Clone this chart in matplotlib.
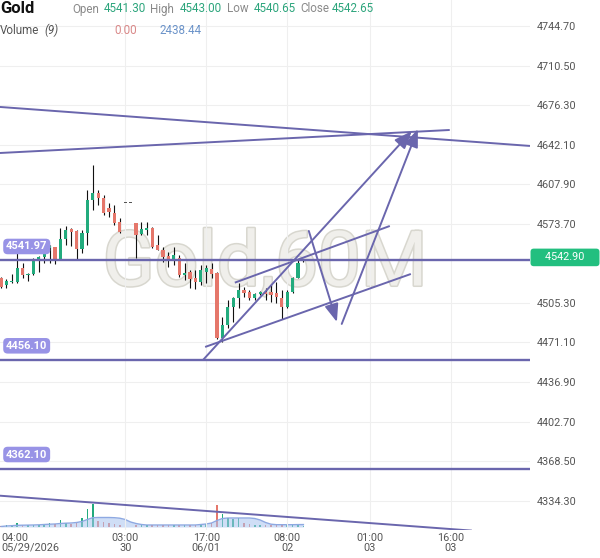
import matplotlib
matplotlib.use("Agg")
import matplotlib.pyplot as plt
import matplotlib.transforms as mtransforms
import matplotlib.patheffects as pe
import numpy as np

plt.rcParams['font.family'] = ['Roboto', 'DejaVu Sans']

# ---------- data (60M bars) ----------
opens = [4526.8, 4520.8, 4523.6, 4523.6, 4535.2, 4529.1, 4530.3, 4542.4, 4544.7, 4552.5,
         4553.3, 4543.0, 4560.3, 4568.9, 4567.5, 4551.6, 4565.5, 4594.3, 4600.6, 4595.7,
         4587.4, 4582.7, 4575.5, 4591.7, 4591.7, 4574.1, 4564.6, 4568.3, 4569.8, 4555.4,
         4551.0, 4545.8, 4542.4, 4543.9, 4529.4, 4532.3, 4526.6, 4523.6, 4532.3, 4534.3,
         4531.4, 4474.7, 4486.2, 4502.0, 4509.3, 4516.5, 4515.0, 4509.3, 4513.0, 4514.5,
         4515.0, 4513.6, 4509.3, 4502.0, 4515.0, 4526.6, 4541.30]
highs = [4527.7, 4525.9, 4530.3, 4548.2, 4539.8, 4531.4, 4544.4, 4545.8, 4552.5, 4555.4,
         4553.9, 4569.8, 4571.8, 4569.8, 4568.0, 4568.3, 4602.9, 4624.5, 4602.9, 4598.6,
         4591.6, 4589.9, 4578.4, 4591.7, 4591.7, 4574.3, 4575.5, 4575.5, 4571.2, 4564.0,
         4553.9, 4549.6, 4553.9, 4546.7, 4539.5, 4533.8, 4533.8, 4538.1, 4538.1, 4539.5,
         4532.3, 4492.8, 4507.8, 4510.7, 4522.2, 4519.3, 4516.5, 4514.0, 4515.5, 4517.9,
         4520.8, 4523.6, 4516.5, 4516.5, 4528.0, 4543.0, 4543.00]
lows = [4518.1, 4518.2, 4522.5, 4522.5, 4526.6, 4524.5, 4529.4, 4532.3, 4539.5, 4540.0,
        4538.9, 4542.4, 4555.4, 4554.5, 4542.4, 4548.2, 4555.4, 4585.6, 4589.9, 4581.3,
        4579.6, 4572.6, 4565.5, 4591.7, 4591.7, 4543.9, 4564.0, 4564.0, 4552.5, 4551.0,
        4541.0, 4536.6, 4538.1, 4527.9, 4525.1, 4517.9, 4517.0, 4520.8, 4522.5, 4526.6,
        4473.8, 4471.8, 4484.0, 4489.0, 4500.6, 4510.7, 4507.8, 4507.8, 4512.0, 4507.8,
        4506.3, 4505.0, 4491.1, 4500.6, 4513.6, 4526.6, 4540.65]
closes = [4519.0, 4524.2, 4524.5, 4535.2, 4529.4, 4530.3, 4543.0, 4544.7, 4548.2, 4554.5,
          4542.4, 4560.3, 4568.3, 4566.9, 4551.6, 4565.5, 4594.3, 4600.6, 4595.7, 4582.7,
          4583.9, 4574.1, 4566.9, 4591.7, 4591.7, 4564.0, 4568.9, 4569.8, 4553.9, 4551.0,
          4545.2, 4543.0, 4546.7, 4529.4, 4530.9, 4525.7, 4523.6, 4533.8, 4535.2, 4530.3,
          4474.7, 4486.2, 4502.0, 4509.3, 4516.5, 4513.6, 4509.3, 4513.0, 4514.7, 4513.0,
          4512.1, 4510.7, 4502.0, 4515.0, 4526.6, 4539.5, 4542.65]
volumes = [1500, 2000, 2000, 4300, 2000, 1800, 2200, 2000, 3000, 4000,
           3000, 7300, 4000, 3500, 4000, 9300, 18300, 22700, 6000, 5300,
           4500, 3300, 2500, 0, 0, 2000, 2000, 1800, 2000, 2200,
           1800, 2000, 2200, 2000, 2300, 2000, 2200, 3300, 3300, 4000,
           21700, 13300, 9300, 8300, 9000, 4000, 3300, 2500, 2000, 2500,
           2200, 2000, 2300, 2000, 2200, 2000, 1000]
volume_ma9 = [500, 1000, 1300, 1700, 1800, 1900, 2000, 2200, 2500, 2800,
              3000, 3500, 3800, 4000, 4500, 5500, 7500, 9300, 9500, 9500,
              9500, 9300, 8800, 7500, 5000, 3500, 2500, 2000, 2000, 2000,
              2000, 2000, 2000, 2000, 2000, 2000, 2000, 2500, 3000, 4000,
              6500, 8500, 9000, 9000, 9000, 9000, 9000, 8500, 7000, 4500,
              2800, 2300, 2300, 2300, 2300, 2400, 2438.44]

price_ticks = [4744.70, 4710.50, 4676.30, 4642.10, 4607.90, 4573.70,
               4505.30, 4471.10, 4436.90, 4402.70, 4368.50, 4334.30]
time_tick_idx = [0, 23, 38, 53, 68.3, 83.3]
time_tick_labels = ['04:00\n05/29/2026', '03:00\n30', '17:00\n06/01',
                    '08:00\n02', '01:00\n03', '16:00\n03']

level_prices = [4541.97, 4456.10, 4362.10]
last_price = 4542.90

# drawn trendlines: (start idx, start price, end idx, end price)
seg_x0 = [-0.19, -0.19, -0.19, 37.8, 43.3]
seg_p0 = [4674.7, 4634.9, 4338.6, 4467.2, 4522.8]
seg_x1 = [97.96, 83.1, 87.2, 75.9, 72.0]
seg_p1 = [4641.0, 4654.8, 4308.4, 4530.3, 4571.8]
arr_x0 = [37.4, 57.0, 63.1]
arr_p0 = [4455.9, 4567.5, 4487.1]
arr_x1 = [76.1, 62.2, 77.2]
arr_p1 = [4653.9, 4488.8, 4655.6]

GREEN = '#22ab7d'
RED = '#e5776b'
PURPLE = '#6a66ad'
LABEL_BG = '#9893e6'

# ---------- figure ----------
fig = plt.figure(figsize=(6, 5.58), dpi=100)
rect = [0, 28 / 558, 530 / 600, 530 / 558]
vax = fig.add_axes(rect)
ax = fig.add_axes(rect, sharex=vax)
vax.set_zorder(1)
ax.set_zorder(2)
ax.patch.set_visible(False)

idx = np.arange(len(opens))
o = np.array(opens); c = np.array(closes)
ax.set_xlim(-1 / 5.4, 529 / 5.4)
ax.set_ylim(4308.94, 4767.18)

# watermark + volume underneath
vax.axis('off')
vax.set_ylim(-3000, 527000)
vax.text(0.5, 0.5, 'Gold,60M', transform=vax.transAxes, ha='center', va='center',
         fontsize=55, color='#f0efeb',
         path_effects=[pe.withStroke(linewidth=2.2, foreground='#d8d7cf')])
vcol = [GREEN if cc >= oo else RED for oo, cc in zip(opens, closes)]
vax.bar(idx, volumes, width=0.3, color=vcol)
vax.fill_between(idx, volume_ma9, color='#a9c4f0', alpha=0.55, lw=0)
vax.plot(idx, volume_ma9, color='#8ea9e2', lw=1)

# grid
ax.set_yticks(price_ticks)
ax.set_yticklabels([f'{p:.2f}' for p in price_ticks])
ax.set_xticks(time_tick_idx)
ax.set_xticklabels(time_tick_labels)
ax.grid(True, color='#efefef', lw=0.8, zorder=0)
ax.get_xgridlines()[0].set_visible(False)
ax.yaxis.tick_right()
ax.tick_params(length=0, labelsize=7.8, colors='#555555')
ax.tick_params(axis='y', pad=5)
ax.tick_params(axis='x', pad=2)
for lbl in ax.get_xticklabels():
    lbl.set_linespacing(1.0)
ax.get_xticklabels()[0].set_ha('left')
for s in ax.spines.values():
    s.set_visible(False)

# candles
body_col = [GREEN if cc > oo else (RED if cc < oo else '#555555') for oo, cc in zip(opens, closes)]
ax.vlines(idx, lows, highs, color='#111111', lw=0.8, zorder=3)
ax.bar(idx, np.maximum(np.abs(c - o), 0.9), bottom=np.minimum(o, c), width=0.62,
       color=body_col, zorder=4)

# horizontal levels with labels
blend = mtransforms.blended_transform_factory(ax.transAxes, ax.transData)
for lv in level_prices:
    ax.axhline(lv, color=PURPLE, lw=1.7, zorder=5)
    ax.annotate(f'{lv:.2f}', xy=(0, lv), xycoords=blend, xytext=(6, 9),
                textcoords='offset pixels', ha='left', va='bottom', fontsize=8,
                fontweight='bold', color='white', zorder=6,
                bbox=dict(boxstyle='round,pad=0.25,rounding_size=0.4', fc=LABEL_BG, ec='none'))

# trendlines and arrows
for x0, p0, x1, p1 in zip(seg_x0, seg_p0, seg_x1, seg_p1):
    ax.plot([x0, x1], [p0, p1], color=PURPLE, lw=1.4, zorder=5, solid_capstyle='butt')
for x0, p0, x1, p1 in zip(arr_x0, arr_p0, arr_x1, arr_p1):
    ax.annotate('', xy=(x1, p1), xytext=(x0, p0), zorder=5,
                arrowprops=dict(arrowstyle='-|>,head_length=0.9,head_width=0.35',
                                color=PURPLE, lw=1.4, shrinkA=0, shrinkB=0,
                                mutation_scale=12))

# last price tag
ax.annotate('    %.2f    ' % last_price, xy=(1, last_price), xycoords=blend,
            xytext=(35, 2), textcoords='offset pixels', ha='center', va='center',
            fontsize=7.8, color='white', annotation_clip=False, zorder=7,
            bbox=dict(boxstyle='round,pad=0.35,rounding_size=0.3', fc='#22bf7f', ec='none'))

# header
def ftxt(x, y, s, **kw):
    fig.text(x / 600, 1 - y / 558, s, va='baseline', **kw)

ftxt(0, 13, 'Gold', fontsize=12, fontweight='bold', color='#111111')
hdr_lbl = ['Open', 'High', 'Low', 'Close']
hdr_val = ['4541.30', '4543.00', '4540.65', '4542.65']
hdr_lbl_x = [72, 150, 227, 300]
hdr_val_x = [104, 180, 254, 332]
for s, x in zip(hdr_lbl, hdr_lbl_x):
    ftxt(x, 12.5, s, fontsize=8.4, color='#8a8a8a')
for s, x in zip(hdr_val, hdr_val_x):
    ftxt(x, 12, s, fontsize=8.4, color='#2ca57c')
ftxt(0, 34, 'Volume', fontsize=8.4, color='#555555')
ftxt(44, 34, '(9)', fontsize=8.4, color='#555555', style='italic')
ftxt(114, 34, '0.00', fontsize=8.4, color='#d98888')
ftxt(159, 34, '2438.44', fontsize=8.4, color='#6b93c9')

fig.savefig('out.png', dpi=100)
